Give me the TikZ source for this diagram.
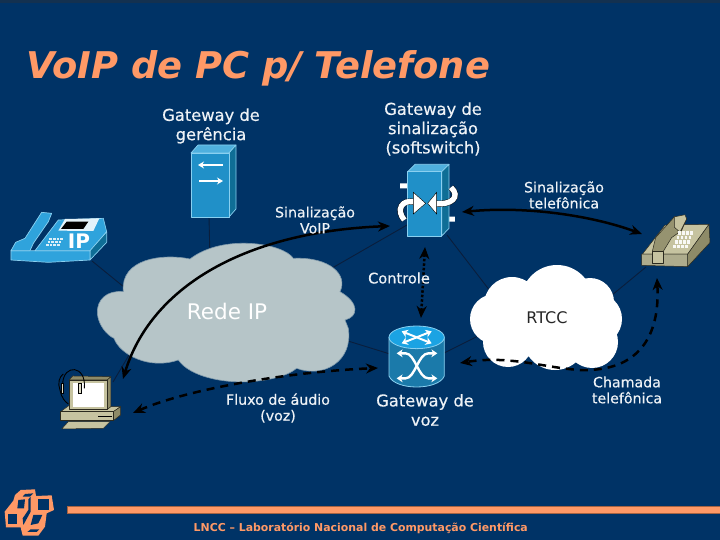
\documentclass[tikz,border=0pt]{standalone}
\usepackage{fontspec}
\setmainfont{DejaVu Sans}
\newfontfamily\labfont[FakeBold=0.35]{DejaVu Sans}
\usetikzlibrary{arrows.meta}
\definecolor{bg}{HTML}{003366}
\definecolor{salmon}{HTML}{FF9966}
\definecolor{wire}{HTML}{0A1E3C}
\definecolor{cloudgrey}{HTML}{B6C5C8}
\definecolor{blueF}{HTML}{2090C8}
\definecolor{blueT}{HTML}{4FB0DE}
\definecolor{blueS}{HTML}{0F6E96}
\definecolor{blueE}{HTML}{8AD0F0}
\definecolor{blueP}{HTML}{2FA3DC}
\definecolor{beigeF}{HTML}{C6C3A0}
\definecolor{beigeS}{HTML}{8E8B68}
\definecolor{label}{HTML}{EEF2F6}
\tikzset{
  connector/.style={draw=wire,line width=0.9pt},
  flow/.style={draw=black,line width=2.5pt,{Stealth[length=12pt,width=10pt]}-{Stealth[length=12pt,width=10pt]}},
  dashflow/.style={flow,dash pattern=on 8pt off 6pt},
  dotflow/.style={flow,dash pattern=on 2.5pt off 2pt},
  lab/.style={text=label,align=center,font=\labfont\fontsize{14.2}{16}\selectfont,inner sep=0pt},
  biglab/.style={text=label,align=center,font=\labfont\fontsize{16.3}{19.3}\selectfont,inner sep=0pt},
  edge3d/.style={draw=blueE,line width=0.7pt,line join=round},
  edgeb/.style={draw=black!70!beigeS,line width=0.5pt,line join=round},
  whitearrow/.style={draw=white,line width=1.8pt,-{Stealth[length=6pt,width=7pt]}},
  twoway/.style={draw=white,line width=2.4pt,{Stealth[length=6pt,width=8pt]}-{Stealth[length=6pt,width=8pt]}}
}
\begin{document}
\begin{tikzpicture}[x=1pt,y=-1pt]
\useasboundingbox (0,0) rectangle (720,540);
\fill[bg] (0,0) rectangle (720,540);
\fill[bg!70!black!85!gray] (0,0) rectangle (720,3);
% anchors
\coordinate (ipphone) at (92,261);
\coordinate (ipin) at (135,296);
\coordinate (pc) at (113,382);
\coordinate (pcin) at (135,345);
\coordinate (gerB) at (209,217);
\coordinate (gerin) at (210,260);
\coordinate (softL) at (407,225);
\coordinate (softin) at (320,275);
\coordinate (softR) at (447,235);
\coordinate (rtccin) at (497,300);
\coordinate (rtccR) at (600,305);
\coordinate (phone) at (646,267);
\coordinate (vozL) at (390,354);
\coordinate (vozin) at (335,337);
\coordinate (vozR) at (444,353);
\coordinate (rtccL) at (490,330);
% connectors
\draw[connector] (ipphone) -- (ipin);
\draw[connector] (pc) -- (pcin);
\draw[connector] (gerB) -- (gerin);
\draw[connector] (softL) -- (softin);
\draw[connector] (softR) -- (rtccin);
\draw[connector] (rtccR) -- (phone);
\draw[connector] (vozL) -- (vozin);
\draw[connector] (vozR) -- (rtccL);
% Rede IP cloud
\begin{scope}[shift={(90,235)},x=0.3333pt,y=-0.3333pt]
\filldraw[draw=cloudgrey!70!bg,fill=cloudgrey,line width=0.6pt]
 (100,170) .. controls (50,165) and (20,195) .. (22,235) .. controls (25,270) and (50,300) .. (72,310)
 .. controls (90,360) and (180,405) .. (265,375) .. controls (300,425) and (400,445) .. (480,440)
 .. controls (530,437) and (590,425) .. (620,400) .. controls (700,430) and (790,380) .. (775,280)
 -- (765,255) .. controls (805,245) and (810,205) .. (750,170) .. controls (775,120) and (720,65) .. (610,70)
 .. controls (580,25) and (400,-5) .. (300,72) .. controls (220,55) and (90,70) .. (100,170) -- cycle;
\end{scope}
% RTCC cloud
\fill[white]
 (557,301) circle (36) (512,305) circle (28) (495,319) circle (25) (508,342) circle (25)
 (555,338) circle (32) (592,342) circle (26) (596,319) circle (26) (590,302) circle (24) (545,320) circle (35);
% Gateway de gerencia
\filldraw[edge3d,fill=blueT] (191,153) -- (198,145) -- (236,145) -- (229,153) -- cycle;
\filldraw[edge3d,fill=blueS] (229,153) -- (236,145) -- (236,209) -- (229,217) -- cycle;
\filldraw[edge3d,fill=blueF] (191,153) rectangle (229,217);
\draw[whitearrow] (223,165) -- (198,165);
\draw[whitearrow] (199,181) -- (223,181);
% softswitch
\begin{scope}[shift={(395,160)},x=0.3333pt,y=-0.3333pt]
\fill[white] (15,70) rectangle (40,85) (158,170) rectangle (180,185);
\filldraw[edge3d,fill=blueT] (38,35) -- (60,13) -- (162,13) -- (140,35) -- cycle;
\filldraw[edge3d,fill=blueS] (140,35) -- (162,13) -- (162,205) -- (140,228) -- cycle;
\filldraw[edge3d,fill=blueF] (38,35) rectangle (140,228);
\draw[black,line width=6.2pt] (28,180) .. controls (2,150) and (20,115) .. (62,127);
\draw[black,line width=6.2pt] (168,82) .. controls (198,110) and (170,137) .. (118,130);
\draw[white,line width=5.4pt] (28,180) .. controls (2,150) and (20,115) .. (62,127);
\draw[white,line width=5.4pt] (168,82) .. controls (198,110) and (170,137) .. (118,130);
\filldraw[fill=white,draw=black,line width=0.4pt] (55,97) -- (92,130) -- (55,162) -- cycle;
\filldraw[fill=white,draw=black,line width=0.4pt] (125,97) -- (98,130) -- (125,162) -- cycle;
\end{scope}
% gateway de voz
\begin{scope}[shift={(385,320)},x=0.3333pt,y=-0.3333pt]
\filldraw[draw=blueE,fill=blueF!85!black,line width=0.8pt] (12,52) -- (12,168) .. controls (30,212) and (160,212) .. (178,168) -- (178,52) -- cycle;
\definecolor{vozT}{HTML}{1BA3E3}
\filldraw[draw=blueE,fill=vozT,line width=0.8pt] (95,52) ellipse [x radius=83,y radius=34];
\draw[twoway,line width=2pt] (50,34) -- (140,70);
\draw[twoway,line width=2pt] (50,70) -- (140,34);
\draw[twoway] (35,100) -- (62,100) .. controls (90,100) and (100,175) .. (130,175) -- (157,175);
\draw[twoway] (35,175) -- (62,175) .. controls (90,175) and (100,100) .. (130,100) -- (157,100);
\end{scope}
% telephone
\begin{scope}[shift={(635,202.3)},x=0.3333pt,y=-0.415pt]
\filldraw[edgeb,fill=beigeF] (22,125) -- (90,55) -- (222,53) -- (158,125) -- cycle;
\filldraw[edgeb,fill=beigeS] (158,125) -- (222,53) -- (225,97) -- (158,155) -- cycle;
\filldraw[edgeb,fill=beigeF!88!black] (20,125) -- (158,125) -- (158,155) -- (20,152) -- cycle;
\filldraw[edgeb,fill=beigeS!85!beigeF] (52,118) -- (62,85) -- (118,35) -- (155,38) -- (140,68) -- (110,85) -- (85,118) -- cycle;
\filldraw[edgeb,fill=beigeF] (118,35) -- (150,30) -- (155,40) -- (135,72) -- (118,60) -- cycle;
\filldraw[edgeb,fill=beigeF] (52,118) -- (85,118) -- (85,147) -- (52,147) -- cycle;
\foreach \i in {0,1,2,3}{\foreach \j in {0,1,2,3}{
  \fill[white!90!beigeF] ({130+\i*12-\j*5},{70+\j*11}) rectangle +(8,8);
}}
\end{scope}
% IP phone
\begin{scope}[shift={(5,205)},x=0.3333pt,y=-0.3333pt]
\filldraw[edge3d,fill=blueS] (255,135) -- (305,80) -- (305,112) -- (255,165) -- cycle;
\filldraw[edge3d,fill=blueP] (18,137) -- (255,137) -- (255,165) -- (130,172) -- (18,165) -- cycle;
\filldraw[edge3d,fill=blueP] (90,137) -- (160,45) -- (295,40) -- (305,80) -- (255,137) -- cycle;
\filldraw[edge3d,fill=blueP] (18,137) -- (32,112) -- (60,100) -- (110,22) -- (140,25) -- (130,50) -- (85,115) -- (75,137) -- cycle;
\fill[white!85!blueT] (160,77) -- (180,42) -- (283,40) -- (265,78) -- cycle;
\fill[black] (168,72) -- (185,50) -- (250,50) -- (235,72) -- cycle;
\foreach \i in {0,1,2,3}{\foreach \j in {0,1,2}{
  \fill[white!80!blueT] ({133+\i*11-\j*5},{100+\j*9}) rectangle +(8,6);
}}
\node[font=\bfseries\fontsize{20}{20}\selectfont,text=white,inner sep=0pt] (iplabel) at (222,108) {IP};
\end{scope}
% computer
\begin{scope}[shift={(0,180)},x=0.3333pt,y=-0.3333pt]
\filldraw[edgeb,fill=beigeF] (182,695) -- (205,678) -- (362,680) -- (340,695) -- cycle;
\filldraw[edgeb,fill=beigeS] (340,695) -- (362,680) -- (362,705) -- (340,722) -- cycle;
\filldraw[edgeb,fill=beigeF] (182,695) rectangle (340,722);
\draw[black,line width=0.7pt] (295,709) -- (336,709);
\filldraw[edgeb,fill=beigeF] (185,747) -- (205,725) -- (330,725) -- (310,745) -- cycle;
\filldraw[edgeb,fill=beigeS] (207,600) -- (218,588) -- (333,590) -- (322,600) -- cycle;
\filldraw[edgeb,fill=beigeS] (322,600) -- (333,590) -- (333,680) -- (322,688) -- cycle;
\filldraw[edgeb,fill=beigeF] (207,600) rectangle (322,688);
\fill[white] (218,610) rectangle (312,680);
\draw[black,line width=0.9pt] (188,612) .. controls (190,550) and (260,555) .. (253,625);
\draw[black,line width=0.9pt] (180,630) .. controls (172,610) and (178,590) .. (190,582);
\draw[black,line width=0.9pt] (180,630) .. controls (185,655) and (195,665) .. (205,672);
\filldraw[fill=beigeF!60!white,draw=black,line width=0.3pt] (182,610) rectangle (190,640);
\filldraw[fill=beigeF!60!white,draw=black,line width=0.3pt] (235,610) rectangle (243,640);
\end{scope}
% flows
\coordinate (voipA) at (123,379); \coordinate (voipB) at (390,226);
\coordinate (telA) at (462,212); \coordinate (telB) at (642,234);
\coordinate (ctlA) at (425,247); \coordinate (ctlB) at (421,318);
\coordinate (audA) at (133,413); \coordinate (audB) at (378,368);
\coordinate (chaA) at (657,278); \coordinate (chaM) at (580,370); \coordinate (chaB) at (460,363);
\draw[flow] (voipA) .. controls (150,290) and (240,232) .. (voipB);
\draw[flow] (telA) .. controls (525,206) and (590,215) .. (telB);
\draw[dotflow] (ctlA) -- (ctlB);
\draw[dashflow] (audA) .. controls (185,390) and (285,372) .. (audB);
\draw[dashflow] (chaA) .. controls (660,335) and (640,372) .. (chaM) .. controls (545,368) and (510,355) .. (chaB);
% text
\node[text=salmon,font=\bfseries\itshape\fontsize{36.8}{38}\selectfont,anchor=base west,inner sep=0pt] (title) at (26.5,79) {VoIP de PC p/ Telefone};
\node[biglab] (tger) at (211,126) {Gateway de\\gerência};
\node[biglab] (tsof) at (433,129) {Gateway de\\sinalização\\(softswitch)};
\node[lab] (tsv) at (315,220) {Sinalização\\VoIP};
\node[lab] (tst) at (564,195) {Sinalização\\telefônica};
\node[lab,font=\labfont\fontsize{14.6}{16}\selectfont] (tctl) at (399,278) {Controle};
\node[biglab] (tvoz) at (425,410) {Gateway de\\voz};
\node[lab] (tflu) at (278,408) {Fluxo de áudio\\(voz)};
\node[lab] (tcha) at (627,390) {Chamada\\telefônica};
\node[text=white,font=\fontsize{21.5}{24}\selectfont,inner sep=0pt] (trede) at (227,311) {Rede IP};
\node[text=black!85,font=\fontsize{16}{18}\selectfont,inner sep=0pt] (trtcc) at (547,318) {RTCC};
% footer
\filldraw[draw=black!35!salmon,fill=salmon,line width=0.6pt] (67,506) rectangle (720,513);
\node[text=salmon,font=\bfseries\fontsize{10.9}{12}\selectfont,anchor=base west,inner sep=0pt] (foot) at (193.5,531) {LNCC – Laboratório Nacional de Computação Científica};
% logo
\begin{scope}[shift={(0,480)},x=0.3333pt,y=-0.3333pt]
\fill[salmon,line join=round] (14,95) -- (40,62) -- (45,45) -- (62,30) -- (105,28) -- (108,48) -- (155,46) -- (162,90) -- (140,100) -- (135,140) -- (115,167) -- (68,167) -- (62,142) -- (18,142) -- cycle;
\fill[bg] (25,103) -- (50,103) -- (50,132) -- (25,132) -- cycle;
\fill[bg] (55,60) -- (75,58) -- (72,85) -- (52,85) -- cycle;
\fill[bg] (115,58) -- (148,58) -- (148,90) -- (115,90) -- cycle;
\fill[bg] (100,105) -- (127,105) -- (115,130) -- (92,135) -- cycle;
\fill[bg] (92,148) -- (118,148) -- (110,156) -- (82,156) -- cycle;
\fill[bg] (85,58) -- (92,50) -- (92,95) -- (70,135) -- (68,115) -- (85,90) -- cycle;
\fill[bg] (75,42) -- (100,40) -- (90,50) -- (68,50) -- cycle;
\end{scope}
\end{tikzpicture}
\end{document}
